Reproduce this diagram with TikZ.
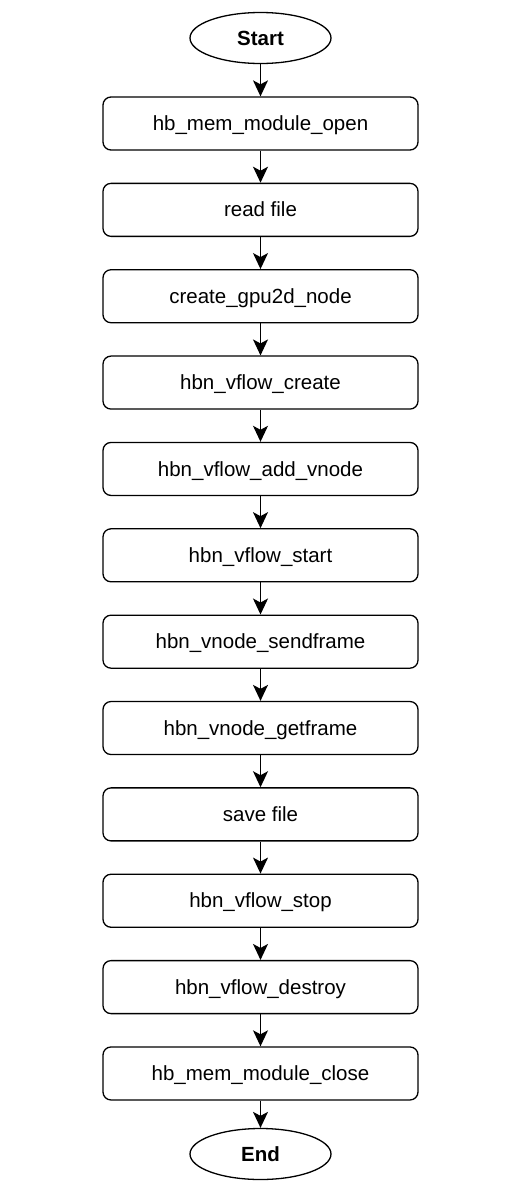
\documentclass[tikz,border=0pt]{standalone}
\usepackage{fontspec}
\setmainfont{Liberation Sans}
\usetikzlibrary{shapes.geometric, arrows.meta}
\tikzset{
    stepbox/.style={draw, line width=1.3pt, rounded corners=8pt,
        minimum width=315pt, minimum height=53pt, inner sep=0pt,
        text height=18.6pt, text depth=4.4pt,
        font=\fontsize{20.5}{24}\selectfont},
    term/.style={draw, ellipse, line width=1.3pt,
        minimum width=141pt, minimum height=51pt, inner sep=0pt,
        text height=18.6pt, text depth=4.4pt,
        font=\fontsize{20.5}{24}\selectfont\bfseries},
    arr/.style={line width=1.3pt, -{Stealth[length=16pt,width=15pt,inset=4pt]}},
}

\begin{document}
\begin{tikzpicture}[x=1pt, y=-1pt]
    \useasboundingbox (0,0) rectangle (520,1200);

    \node[term] (start) at (260.5,38) {Start};

    \foreach \t [count=\i] in {hb\_mem\_module\_open, read file,
        create\_gpu2d\_node, hbn\_vflow\_create, hbn\_vflow\_add\_vnode,
        hbn\_vflow\_start, hbn\_vnode\_sendframe, hbn\_vnode\_getframe,
        save file, hbn\_vflow\_stop, hbn\_vflow\_destroy,
        hb\_mem\_module\_close}
        \node[stepbox] (s\i) at (260.5,{123.5+86.36*(\i-1)}) {\t};

    \node[term] (stop) at (260.5,1154) {End};

    \draw[arr] (start) -- (s1);
    \foreach \i [evaluate=\i as \j using int(\i+1)] in {1,...,11}
        \draw[arr] (s\i) -- (s\j);
    \draw[arr] (s12) -- (stop);
\end{tikzpicture}
\end{document}
